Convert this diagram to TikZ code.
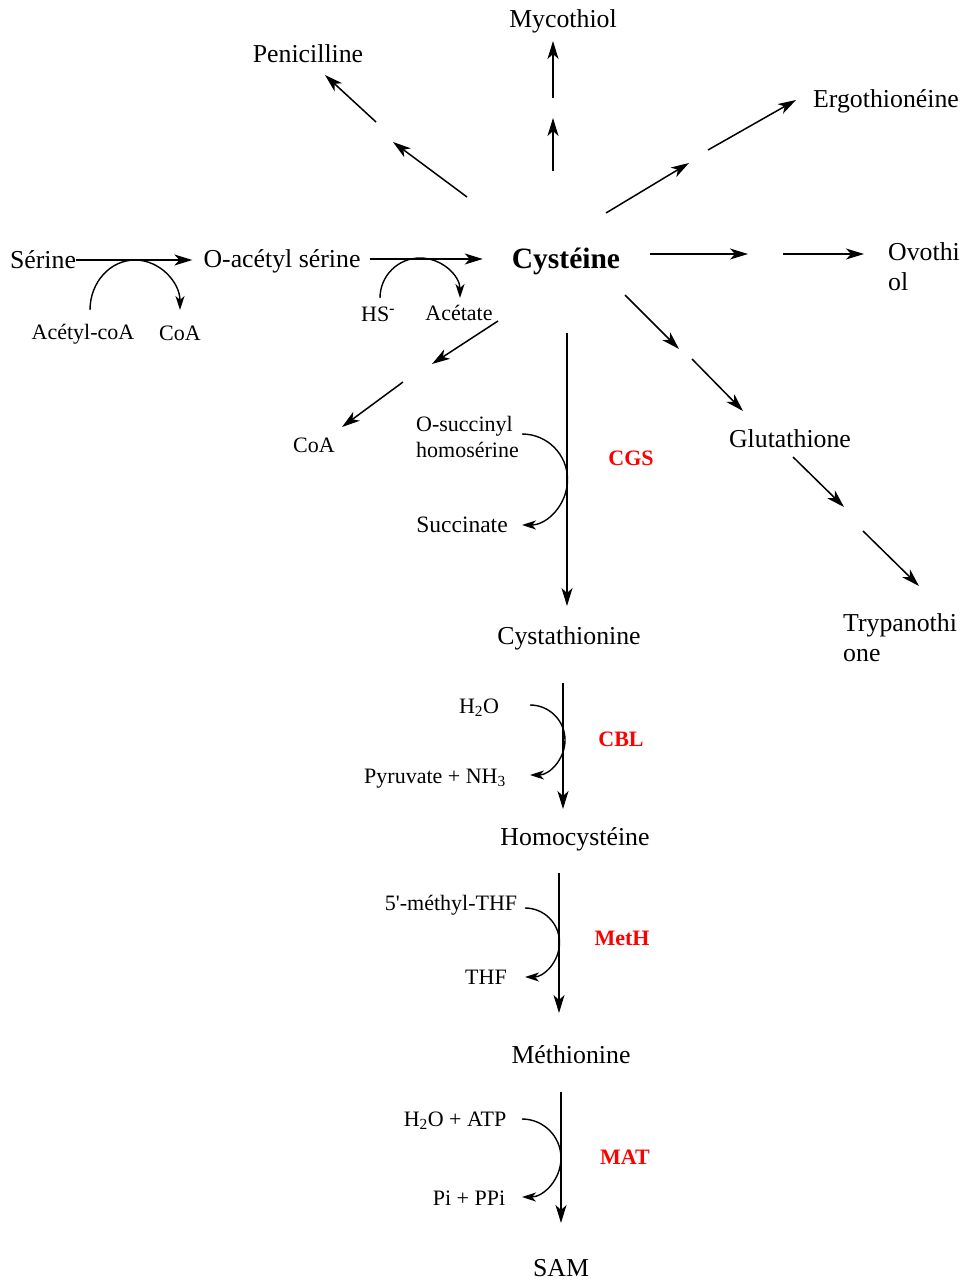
\documentclass[tikz,border=0pt]{standalone}
\usepackage{fontspec}
\setmainfont{Liberation Serif}
\usetikzlibrary{arrows.meta}
\tikzstyle{metab} = [inner sep=0pt, text height=18pt, text depth=0.8pt,
    font=\fontsize{25.8}{30}\selectfont]
\tikzstyle{cofac} = [inner sep=0pt, text height=15pt, text depth=0.8pt,
    font=\fontsize{22}{26}\selectfont]
\tikzstyle{enzyme} = [cofac, text=red, font=\fontsize{22}{26}\selectfont\bfseries]
\tikzstyle{line} = [draw, line width=1.6pt, -{Stealth[length=18pt,width=11pt,inset=5pt]}]
\tikzstyle{side} = [draw, line width=1.4pt, -{Stealth[length=14pt,width=9pt,inset=4pt]}]

\begin{document}
\begin{tikzpicture}[x=1pt, y=-1pt]
		\useasboundingbox (0,0) rectangle (961,1281);

		% metabolites
		\node [metab] (ser) at (43,260) {Sérine};
		\node [metab] (oas) at (282,259) {O-acétyl sérine};
		\node [metab, font=\fontsize{29.5}{34}\selectfont\bfseries] (cys) at (566,260) {Cystéine};
		\node [metab] (myc) at (563,19) {Mycothiol};
		\node [metab] (pen) at (308,54) {Penicilline};
		\node [metab] (erg) at (886,99) {Ergothionéine};
		\node [metab, align=left, anchor=west] (ovo) at (888,282) {Ovothi\\ol};
		\node [metab] (glu) at (790,439) {Glutathione};
		\node [metab, align=left, anchor=west] (try) at (843,653) {Trypanothi\\one};
		\node [metab] (cth) at (569,636) {Cystathionine};
		\node [metab] (hcy) at (575,837) {Homocystéine};
		\node [metab] (met) at (571,1055) {Méthionine};
		\node [metab] (sam) at (561,1268) {SAM};

		% cofactors
		\node [cofac] (acoa) at (83,332) {Acétyl-coA};
		\node [cofac] (coa1) at (180,333) {CoA};
		\node [cofac] (hs) at (378,314) {HS\textsuperscript{\textbf{-}}};
		\node [cofac] (ace) at (459,313) {Acétate};
		\node [cofac] (coa2) at (314,445) {CoA};
		\node [cofac, align=left, anchor=west] (osh) at (416,450) {O-succinyl\\homosérine};
		\node [cofac, font=\fontsize{23.5}{27}\selectfont] (suc) at (462,525) {Succinate};
		\node [cofac] (h2o) at (479,706) {H\textsubscript{2}O};
		\node [cofac] (pyr) at (435,776) {Pyruvate + NH\textsubscript{3}};
		\node [cofac] (mthf) at (451,903) {5\textquotesingle-méthyl-THF};
		\node [cofac] (thf) at (486,977) {THF};
		\node [cofac] (atp) at (455,1119) {H\textsubscript{2}O + ATP};
		\node [cofac] (ppi) at (469,1198) {Pi + PPi};

		% enzymes
		\node [enzyme] (cgs) at (631,458) {CGS};
		\node [enzyme] (cbl) at (621,739) {CBL};
		\node [enzyme] (meth) at (622,938) {MetH};
		\node [enzyme] (mat) at (625,1157) {MAT};

		% main pathway
		\coordinate (cys0) at (567,333); \coordinate (cys1) at (567,606);
		\coordinate (cth0) at (563,683); \coordinate (cth1) at (563,809);
		\coordinate (hcy0) at (559,873); \coordinate (hcy1) at (559,1013);
		\coordinate (met0) at (561,1092); \coordinate (met1) at (561,1223);
		\path [line] (ser.east) -- ([xshift=-11pt]ser.east -| oas.west);
		\path [line] ([xshift=9pt]oas.east) -- ([xshift=-29pt]oas.east -| cys.west);
		\path [line] (cys0) -- (cys1);
		\path [line] (cth0) -- (cth1);
		\path [line] (hcy0) -- (hcy1);
		\path [line] (met0) -- (met1);

		% side reactions
		\path [side] (90,310) arc[start angle=180, end angle=360, x radius=45, y radius=50];
		\path [side] (380,298) arc[start angle=180, end angle=360, radius=40];
		\path [side] (522,434) arc[start angle=-90, end angle=90, radius=45.5];
		\path [side] (530,705) arc[start angle=-90, end angle=90, radius=35];
		\path [side] (525,908) arc[start angle=-90, end angle=90, radius=34.5];
		\path [side] (522,1119) arc[start angle=-90, end angle=90, radius=39];

		% broken arrows out of cysteine
		\coordinate (m0) at (553,171); \coordinate (m1) at (553,118);
		\coordinate (m2) at (553,98);  \coordinate (m3) at (553,41);
		\coordinate (p0) at (467,197); \coordinate (p1) at (393,142);
		\coordinate (p2) at (376,122); \coordinate (p3) at (325,75);
		\coordinate (e0) at (606,213); \coordinate (e1) at (689,163);
		\coordinate (e2) at (708,150); \coordinate (e3) at (796,100);
		\coordinate (o0) at (650,254); \coordinate (o1) at (748,254);
		\coordinate (o2) at (783,254); \coordinate (o3) at (864,254);
		\coordinate (g0) at (625,295); \coordinate (g1) at (679,349);
		\coordinate (g2) at (692,359); \coordinate (g3) at (743,411);
		\coordinate (t0) at (793,457); \coordinate (t1) at (844,507);
		\coordinate (t2) at (863,531); \coordinate (t3) at (919,586);
		\coordinate (c0) at (498,321); \coordinate (c1) at (432,364);
		\coordinate (c2) at (403,382); \coordinate (c3) at (342,427);

		\foreach \a/\b in {m0/m1, m2/m3, p0/p1, p2/p3, e0/e1, e2/e3, o0/o1, o2/o3,
			g0/g1, g2/g3, t0/t1, t2/t3, c0/c1, c2/c3}
			\path [line, line width=1.5pt] (\a) -- (\b);
	\end{tikzpicture}
\end{document}
